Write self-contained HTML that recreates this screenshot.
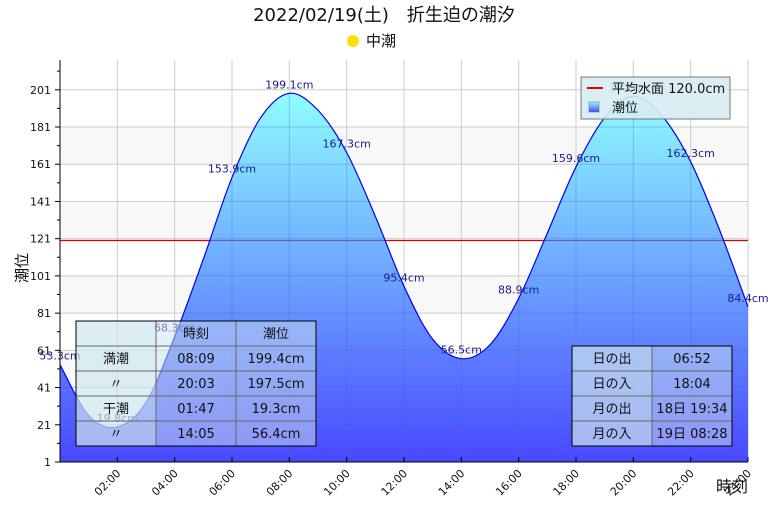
<!DOCTYPE html>
<html><head><meta charset="utf-8">
<style>
body{margin:0;background:#fff;width:768px;height:512px;overflow:hidden;font-family:"Liberation Sans","Noto Sans CJK JP",sans-serif;}
svg text{font-family:"DejaVu Sans","Noto Sans CJK JP",sans-serif;}
</style></head>
<body>
<svg id="chart" width="768" height="512" xmlns="http://www.w3.org/2000/svg">
<defs>
<linearGradient id="fillGrad" gradientUnits="userSpaceOnUse" x1="0" y1="90" x2="0" y2="462">
<stop offset="0" stop-color="#90ffff"/><stop offset="1" stop-color="#4848ff"/>
</linearGradient>
<linearGradient id="legGrad" x1="0" y1="0" x2="0" y2="1"><stop offset="0" stop-color="#90ffff"/><stop offset="1" stop-color="#4848ff"/></linearGradient>
<clipPath id="areaClip"><path id="clipPathEl"/></clipPath>
</defs>
<text x="384" y="21" font-size="18" text-anchor="middle" fill="#111">2022/02/19(土)　折生迫の潮汐</text>
<circle cx="353" cy="41" r="6" fill="#ffe000"/>
<text x="366" y="46" font-size="15" fill="#111">中潮</text>
<g id="bands"></g>
<g id="grid"></g>
<line id="meanline0" stroke="#e00000" stroke-width="1.2"/>
<path id="area" fill="url(#fillGrad)"/>
<g id="grid2" clip-path="url(#areaClip)"></g>
<path id="curve" fill="none" stroke="#0000ee" stroke-width="1.2"/>
<g id="labels"></g>
<g id="axes"></g>
<text x="0" y="0" font-size="15" fill="#111" transform="translate(27,268) rotate(-90)" text-anchor="middle">潮位</text>
<text x="732" y="492" font-size="16" fill="#111" text-anchor="middle">時刻</text>
<g>
<rect x="581" y="77" width="149" height="42" fill="rgba(215,236,242,0.9)" stroke="#777"/>
<line x1="587" y1="88" x2="603" y2="88" stroke="#e00000" stroke-width="2"/>
<text x="612" y="93" font-size="13" fill="#111">平均水面 120.0cm</text>
<rect x="589" y="102" width="10" height="10" fill="url(#legGrad)" stroke="#666" stroke-width="0.5"/>
<text x="612" y="112" font-size="13" fill="#111">潮位</text>
</g>
<g id="tables"></g>
</svg>
<script>
const hours=[0,1,2,3,4,5,6,7,8,9,10,11,12,13,14,15,16,17,18,19,20,21,22,23,24];
const levels=[53.3,26,19.8,33,68.3,110,153.9,186,199.1,190,167.3,133,95.4,67,56.5,64,88.9,124,159.6,186,197.5,187,162.3,126,84.4];
const labelHours=[0,2,4,6,8,10,12,14,16,18,20,22,24];
const labelValues=["53.3cm","19.8cm","68.3cm","153.9cm","199.1cm","167.3cm","95.4cm","56.5cm","88.9cm","159.6cm","197.0cm","162.3cm","84.4cm"];
const yTicks=[1,21,41,61,81,101,121,141,161,181,201];
const xTicks=["02:00","04:00","06:00","08:00","10:00","12:00","14:00","16:00","18:00","20:00","22:00","24:00"];
const meanLevel=120;
const tideRows=[["","時刻","潮位"],["満潮","08:09","199.4cm"],["〃","20:03","197.5cm"],["干潮","01:47","19.3cm"],["〃","14:05","56.4cm"]];
const sunRows=[["日の出","06:52"],["日の入","18:04"],["月の出","18日 19:34"],["月の入","19日 08:28"]];

const X0=60,X1=748,Y0=462,YT=60,vMin=1,vMax=217;
const xs=h=>X0+(h/24)*(X1-X0);
const ys=v=>Y0-(v-vMin)/(vMax-vMin)*(Y0-YT);
const NS="http://www.w3.org/2000/svg";
function mk(tag,attrs,parent,txt){const e=document.createElementNS(NS,tag);for(const k in attrs)e.setAttribute(k,attrs[k]);if(txt!==undefined)e.textContent=txt;parent.appendChild(e);return e;}

const bands=document.getElementById('bands');
for(let i=0;i<yTicks.length-1;i++){ if(i%2===0){
 const r=mk('rect',{x:X0,y:ys(yTicks[i+1]),width:X1-X0,height:ys(yTicks[i])-ys(yTicks[i+1]),fill:'#f8f8f8'},bands);
 
 
}}
function drawGrid(g,col){
 yTicks.forEach(v=>{const l=mk('line',{x1:X0,x2:X1,y1:ys(v),y2:ys(v),stroke:col},g);
 
 });
 xTicks.forEach((t,i)=>{const x=xs((i+1)*2);const l=mk('line',{x1:x,x2:x,y1:YT,y2:Y0,stroke:col},g);
 
 });
}
drawGrid(document.getElementById('grid'),'#cccccc');

const pts=hours.map((h,i)=>[xs(h),ys(levels[i])]);
let d='M'+pts[0][0]+','+pts[0][1];
for(let i=0;i<pts.length-1;i++){
 const p0=pts[Math.max(0,i-1)],p1=pts[i],p2=pts[i+1],p3=pts[Math.min(pts.length-1,i+2)];
 const c1=[p1[0]+(p2[0]-p0[0])/6,p1[1]+(p2[1]-p0[1])/6];
 const c2=[p2[0]-(p3[0]-p1[0])/6,p2[1]-(p3[1]-p1[1])/6];
 d+=` C${c1[0]},${c1[1]} ${c2[0]},${c2[1]} ${p2[0]},${p2[1]}`;
}
const areaD=d+` L${xs(24)},${Y0} L${xs(0)},${Y0} Z`;
document.getElementById('curve').setAttribute('d',d);
document.getElementById('area').setAttribute('d',areaD);
document.getElementById('clipPathEl').setAttribute('d',areaD);
const ml0=document.getElementById('meanline0');
ml0.setAttribute('x1',X0);ml0.setAttribute('x2',X1);ml0.setAttribute('y1',ys(meanLevel));ml0.setAttribute('y2',ys(meanLevel));
const g2=document.getElementById('grid2');
drawGrid(g2,'rgba(70,90,200,0.3)');
const ml=mk('line',{x1:X0,x2:X1,y1:ys(meanLevel),y2:ys(meanLevel),stroke:'rgba(90,40,120,0.6)','stroke-width':1.2},g2);



const lg=document.getElementById('labels');
labelHours.forEach((h,i)=>{
 const v=levels[hours.indexOf(h)];
 const t=mk('text',{x:xs(h),y:ys(v)-5,'font-size':11,fill:'#1a1a8c','text-anchor':'middle'},lg,labelValues[i]);
 
 
});

const ax=document.getElementById('axes');
mk('line',{x1:X0,x2:X0,y1:YT,y2:Y0,stroke:'#000'},ax);
mk('line',{x1:X0,x2:X1,y1:Y0,y2:Y0,stroke:'#000'},ax);
for(let v=1;v<=211;v+=10){const y=ys(v);mk('line',{x1:X0-((v-1)%20===0?5:3),x2:X0,y1:y,y2:y,stroke:'#000'},ax);}
yTicks.forEach(v=>{const t=mk('text',{x:X0-9,y:ys(v)+4,'font-size':11,'text-anchor':'end',fill:'#111'},ax,String(v));
 
 });
xTicks.forEach((s,i)=>{const x=xs((i+1)*2);
 mk('line',{x1:x,x2:x,y1:Y0-5,y2:Y0,stroke:'#000'},ax);
 const t=mk('text',{x:0,y:0,'font-size':11,'text-anchor':'end',fill:'#111',transform:`translate(${x+4},${Y0+12}) rotate(-45)`},ax,s);
 
 });

const tg=document.getElementById('tables');
function table(x0,y0,cw,rows,name){
 const g=mk('g',{},tg);
 
 
 const rh=25;
 rows.forEach((r,ri)=>r.forEach((c,ci)=>{
  mk('rect',{x:x0+cw*ci,y:y0+rh*ri,width:cw,height:rh,fill:ci===0?'rgba(205,230,238,0.7)':'rgba(205,225,240,0.5)',stroke:'#666'},g);
  const t=mk('text',{x:x0+cw*ci+cw/2,y:y0+rh*ri+17,'font-size':13,'text-anchor':'middle',fill:'#111'},g,c);
  
  
 }));
 mk('rect',{x:x0,y:y0,width:cw*rows[0].length,height:rh*rows.length,fill:'none',stroke:'#000'},g);
}
table(76,321,80,tideRows,'tide-extremes-table');
table(572,346,80,sunRows,'sun-moon-table');
</script>
</body></html>
